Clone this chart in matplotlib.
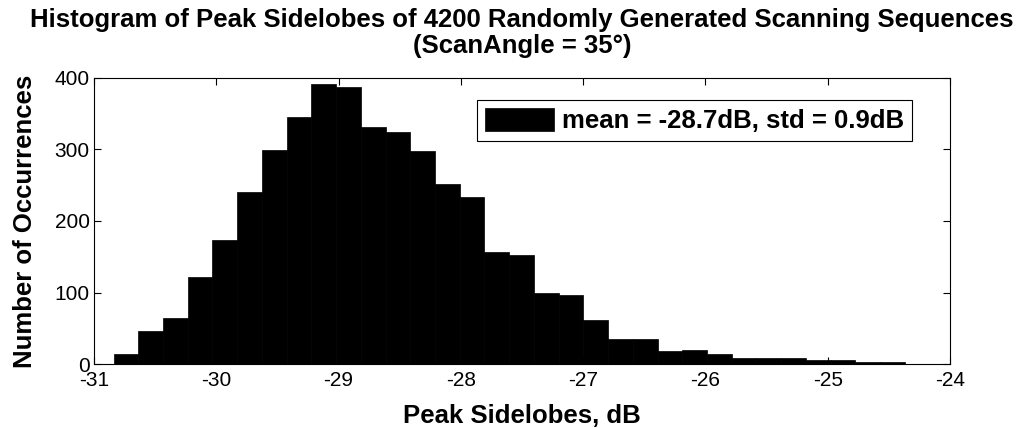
import matplotlib.pyplot as plt
import numpy as np

# bin edges of the histogram (dB) and counts
bin_start = -30.84
bin_stop = -24.37
n_bins = 32
counts = [14, 46, 65, 121, 173, 241, 299, 346, 392, 388, 332, 324,
          298, 252, 234, 157, 153, 100, 96, 62, 35, 35, 18, 20,
          14, 9, 9, 8, 6, 6, 3, 3]
xticks = [-31, -30, -29, -28, -27, -26, -25, -24]
yticks = [0, 100, 200, 300, 400]
legend_label = 'mean = -28.7dB, std = 0.9dB'

plt.rcParams['font.family'] = ['Liberation Sans', 'DejaVu Sans']
plt.rcParams['axes.unicode_minus'] = False

edges = np.linspace(bin_start, bin_stop, n_bins + 1)

fig = plt.figure(figsize=(10.21, 4.28), dpi=100)
ax = fig.add_axes([0.0921, 0.1495, 0.8384, 0.6683])
ax.bar(edges[:-1], counts, width=np.diff(edges), align='edge',
       color='black', edgecolor='black', linewidth=0.5, label=legend_label)

ax.set_xlim(-31, -24)
ax.set_ylim(0, 400)
ax.set_xticks(xticks)
ax.set_yticks(yticks)
ax.tick_params(direction='in', top=True, right=True, labelsize=15, length=5)
ax.tick_params(axis='x', pad=5)
ax.tick_params(axis='y', pad=3)
for s in ax.spines.values():
    s.set_linewidth(0.8)

ax.set_xlabel('Peak Sidelobes, dB', fontsize=18.5, fontweight='bold', labelpad=10)
ax.set_ylabel('Number of Occurrences', fontsize=18.5, fontweight='bold', labelpad=13)
ax.set_title('Histogram of Peak Sidelobes of 4200 Randomly Generated Scanning Sequences\n(ScanAngle = 35\u00b0)',
             fontsize=18.5, fontweight='bold', pad=18, linespacing=1.1)

leg = ax.legend(loc='upper right', bbox_to_anchor=(0.9556, 0.923), fancybox=False,
                edgecolor='black', framealpha=1, borderpad=0.3, borderaxespad=0,
                handlelength=2.7, handleheight=1.0, handletextpad=0.3,
                prop={'size': 18.5, 'weight': 'bold'})
leg.get_frame().set_linewidth(0.8)

fig.savefig('out.png', dpi=100)
